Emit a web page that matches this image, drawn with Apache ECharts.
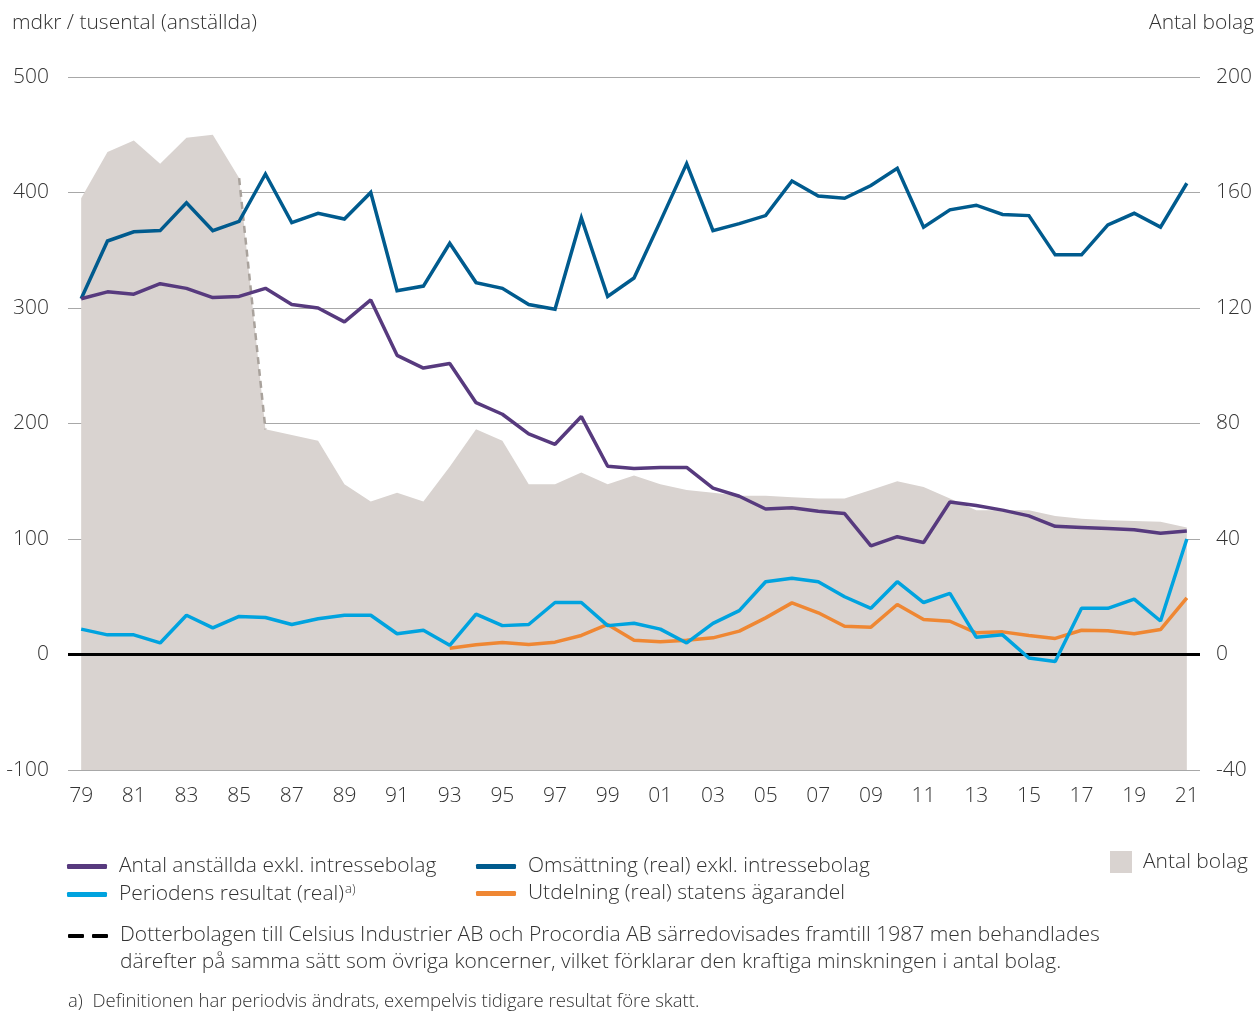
<!DOCTYPE html>
<html>
<head>
<meta charset="utf-8">
<title>Statliga bolag 1979–2021</title>
<script src="https://cdn.jsdelivr.net/npm/echarts@6.0.0/dist/echarts.min.js"></script>
<style>
  html, body { margin: 0; padding: 0; background: #fff; }
  #chart { width: 1257px; height: 1012px; }
</style>
</head>
<body>
<div id="chart"></div>
<script>
// År (kategorier)
const years = [
  '1979','1980','1981','1982','1983','1984','1985','1986','1987','1988',
  '1989','1990','1991','1992','1993','1994','1995','1996','1997','1998',
  '1999','2000','2001','2002','2003','2004','2005','2006','2007','2008',
  '2009','2010','2011','2012','2013','2014','2015','2016','2017','2018',
  '2019','2020','2021'
];

// Antal anställda exkl. intressebolag (tusental)
const anstallda = [
  308, 314, 312, 321, 317, 309, 310, 317, 303, 300,
  288, 307, 259, 248, 252, 218, 208, 191, 182, 206,
  163, 161, 162, 162, 144, 137, 126, 127, 124, 122,
  94, 102, 97, 132, 129, 125, 120, 111, 110, 109,
  108, 105, 107
];

// Omsättning (real) exkl. intressebolag (mdkr)
const omsattning = [
  308, 358, 366, 367, 391, 367, 375, 416, 374, 382,
  377, 400, 315, 319, 356, 322, 317, 303, 299, 378,
  310, 326, 375, 425, 367, 373, 380, 410, 397, 395,
  406, 421, 370, 385, 389, 381, 380, 346, 346, 372,
  382, 370, 408
];

// Periodens resultat (real) (mdkr)
const resultat = [
  22, 17, 17, 10, 34, 23, 33, 32, 26, 31,
  34, 34, 18, 21, 8, 35, 25, 26, 45, 45,
  25, 27, 22, 10, 27, 38, 63, 66, 63, 50,
  40, 63, 45, 53, 15, 17, -3, -6, 40, 40,
  48, 29, 100
];

// Utdelning (real) statens ägarandel (mdkr), redovisas från 1993
const utdelning = [
  null, null, null, null, null, null, null, null, null, null,
  null, null, null, null, 5.5, 8.4, 10.4, 8.7, 10.7, 16.5,
  26, 12.4, 11, 12.4, 14.4, 20.2, 31.7, 44.7, 36.1, 24.5,
  23.7, 43.3, 30.3, 28.8, 18.8, 19.6, 16.5, 13.9, 21, 20.5,
  17.9, 21.6, 49.1
];

// Antal bolag (höger axel)
const antalBolag = [
  158, 174, 178, 170, 179, 180, 165, 78, 76, 74,
  59, 53, 56, 53, 65, 78, 74, 59, 59, 63,
  59, 62, 59, 57, 56, 55, 55, 54.5, 54, 54,
  57, 60, 58, 54, 50, 50, 50, 48, 47, 46.5,
  46.2, 46, 44
];

// Vänster och höger axels skalsteg
const leftTicks = [-100, 0, 100, 200, 300, 400, 500];
const rightTicks = [-40, 0, 40, 80, 120, 160, 200];

// Brottet 1985–1986 när dotterbolagen slutade särredovisas
const breakYears = ['1985', '1986'];
const breakLine = years.map((y, i) => breakYears.includes(y) ? antalBolag[i] : null);

const NAMES = {
  anst: 'Antal anställda exkl. intressebolag',
  oms: 'Omsättning (real) exkl. intressebolag',
  res: 'Periodens resultat (real)',
  utd: 'Utdelning (real) statens ägarandel',
  bolag: 'Antal bolag'
};

const COLORS = {
  anst: '#573a7e',
  oms: '#005b8e',
  res: '#00a3df',
  utd: '#ef8733',
  bolag: '#d9d3d0',
  grid: '#a8a8a8',
  text: '#333333'
};

const FONT = '"Open Sans", "Noto Sans", sans-serif';
const FS = 21;

const chart = echarts.init(document.getElementById('chart'), null, { renderer: 'canvas' });

const legendText = {
  color: COLORS.text,
  fontFamily: FONT,
  fontSize: FS,
  fontWeight: 300,
  padding: [0, 0, 0, 7],
  rich: {
    sup: { fontFamily: FONT, fontSize: 13, fontWeight: 300, color: COLORS.text, verticalAlign: 'top', padding: [0, 0, 10, 1] }
  }
};

function lineLegend(name, left, top) {
  return {
    show: true,
    left: left,
    top: top,
    orient: 'horizontal',
    itemWidth: 40,
    itemHeight: 5,
    selectedMode: false,
    data: [{ name: name, icon: 'roundRect' }],
    textStyle: legendText,
    formatter: (n) => n === NAMES.res ? n + '{sup|a)}' : n
  };
}

const axisText = {
  color: COLORS.text,
  fontFamily: FONT,
  fontSize: FS,
  fontWeight: 300
};

const option = {
  backgroundColor: '#ffffff',
  animation: false,
  textStyle: { fontFamily: FONT },
  grid: { left: 68, right: 57, top: 77, bottom: 242, containLabel: false },
  legend: [
    lineLegend(NAMES.anst, 62, 851),
    lineLegend(NAMES.oms, 471, 851),
    lineLegend(NAMES.res, 62, 878),
    lineLegend(NAMES.utd, 471, 878),
    {
      show: true,
      left: 1105,
      top: 846,
      itemWidth: 22,
      itemHeight: 22,
      selectedMode: false,
      data: [{ name: NAMES.bolag, icon: 'rect' }],
      textStyle: Object.assign({}, legendText, { padding: [0, 0, 0, 6] })
    }
  ],
  xAxis: {
    type: 'category',
    data: years,
    boundaryGap: true,
    axisLine: { show: false },
    axisTick: { show: false },
    splitLine: { show: false },
    axisLabel: Object.assign({ interval: 1, margin: 16, formatter: (v) => v.slice(2) }, axisText)
  },
  yAxis: [
    {
      type: 'value',
      position: 'left',
      min: leftTicks[0],
      max: leftTicks[leftTicks.length - 1],
      interval: leftTicks[1] - leftTicks[0],
      axisLine: { show: false },
      axisTick: { show: false },
      splitLine: { show: true, lineStyle: { color: COLORS.grid, width: 1 } },
      axisLabel: Object.assign({ margin: 19 }, axisText)
    },
    {
      type: 'value',
      position: 'right',
      min: rightTicks[0],
      max: rightTicks[rightTicks.length - 1],
      interval: rightTicks[1] - rightTicks[0],
      axisLine: { show: false },
      axisTick: { show: false },
      splitLine: { show: false },
      axisLabel: Object.assign({ margin: 16 }, axisText)
    }
  ],
  series: [
    {
      name: NAMES.bolag,
      type: 'line',
      yAxisIndex: 1,
      data: antalBolag,
      symbol: 'none',
      lineStyle: { width: 0, color: COLORS.bolag },
      itemStyle: { color: COLORS.bolag },
      areaStyle: { color: COLORS.bolag, opacity: 1, origin: 'start' },
      z: 1
    },
    {
      name: 'Brott 1986',
      type: 'line',
      yAxisIndex: 1,
      data: breakLine,
      symbol: 'none',
      connectNulls: false,
      lineStyle: { width: 2.5, color: '#a9a29c', type: [7, 5] },
      z: 2
    },
    {
      name: NAMES.oms,
      type: 'line',
      data: omsattning,
      symbol: 'none',
      lineStyle: { width: 3.5, color: COLORS.oms, join: 'miter' },
      itemStyle: { color: COLORS.oms },
      z: 5
    },
    {
      name: NAMES.anst,
      type: 'line',
      data: anstallda,
      symbol: 'none',
      lineStyle: { width: 3.5, color: COLORS.anst },
      itemStyle: { color: COLORS.anst },
      z: 6
    },
    {
      name: NAMES.utd,
      type: 'line',
      data: utdelning,
      symbol: 'none',
      lineStyle: { width: 3.5, color: COLORS.utd },
      itemStyle: { color: COLORS.utd },
      z: 5
    },
    {
      name: NAMES.res,
      type: 'line',
      data: resultat,
      symbol: 'none',
      lineStyle: { width: 3.5, color: COLORS.res },
      itemStyle: { color: COLORS.res },
      z: 6,
      markLine: {
        silent: true,
        symbol: 'none',
        label: { show: false },
        lineStyle: { color: '#000000', width: 3, type: 'solid' },
        data: [{ yAxis: 0 }],
        z: 4
      }
    }
  ],
  graphic: [
    {
      type: 'text',
      left: 12,
      top: 13,
      style: { text: 'mdkr / tusental (anställda)', fill: COLORS.text, font: '300 ' + FS + 'px ' + FONT }
    },
    {
      type: 'text',
      right: 3,
      top: 13,
      style: { text: 'Antal bolag', fill: COLORS.text, font: '300 ' + FS + 'px ' + FONT, textAlign: 'right' }
    },
    {
      type: 'group',
      left: 68,
      top: 922,
      children: [
        { type: 'rect', shape: { x: 0, y: 12, width: 16, height: 4, r: 1 }, style: { fill: '#000' } },
        { type: 'rect', shape: { x: 24, y: 12, width: 16, height: 4, r: 1 }, style: { fill: '#000' } },
        {
          type: 'text',
          x: 52,
          y: 0,
          style: {
            text: 'Dotterbolagen till Celsius Industrier AB och Procordia AB särredovisades framtill 1987 men behandlades\n' +
                  'därefter på samma sätt som övriga koncerner, vilket förklarar den kraftiga minskningen i antal bolag.',
            fill: COLORS.text,
            font: '300 ' + FS + 'px ' + FONT,
            lineHeight: 27
          }
        }
      ]
    },
    {
      type: 'text',
      left: 68,
      top: 992,
      style: {
        text: 'a)  Definitionen har periodvis ändrats, exempelvis tidigare resultat före skatt.',
        fill: COLORS.text,
        font: '300 18.5px ' + FONT
      }
    }
  ]
};

chart.setOption(option);
</script>
</body>
</html>
